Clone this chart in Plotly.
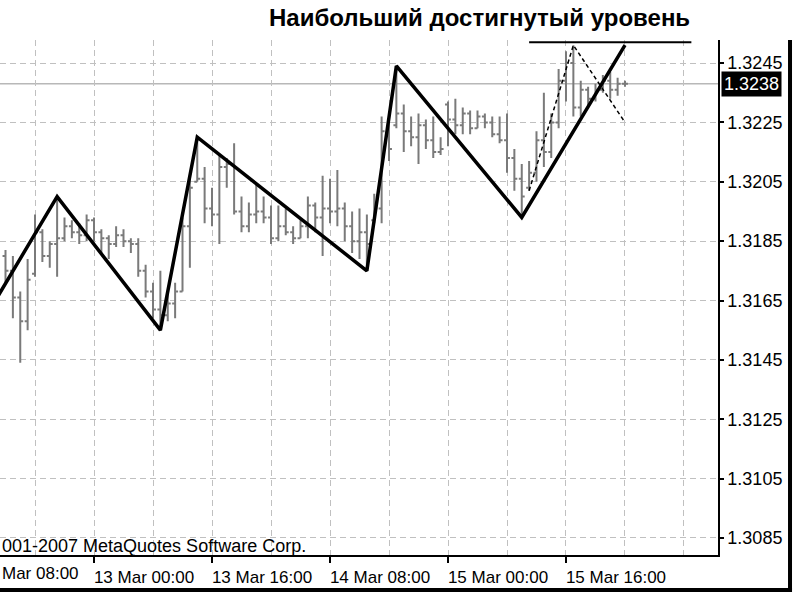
import pandas as pd
import plotly.graph_objects as go

# Hourly bars, 12 Mar 2007 12:00 .. 16 Mar 2007 00:00
bar_times = pd.date_range("2007-03-12 12:00", periods=85, freq="h")

highs = [1.3182, 1.3180, 1.3168, 1.3179, 1.3194, 1.3189, 1.3185, 1.3200, 1.3193, 1.3192,
         1.3191, 1.3194, 1.3193, 1.3189, 1.3187, 1.3190, 1.3189, 1.3186, 1.3186, 1.3177,
         1.3171, 1.3175, 1.3168, 1.3171, 1.3193, 1.3206, 1.3220, 1.3210, 1.3203, 1.3214,
         1.3213, 1.3218, 1.3200, 1.3198, 1.3204, 1.3200, 1.3197, 1.3197, 1.3196, 1.3190,
         1.3192, 1.3200, 1.3198, 1.3207, 1.3206, 1.3209, 1.3198, 1.3195, 1.3196, 1.3194,
         1.3201, 1.3227, 1.3225, 1.3244, 1.3231, 1.3227, 1.3228, 1.3226, 1.3227, 1.3220,
         1.3232, 1.3233, 1.3230, 1.3229, 1.3229, 1.3228, 1.3227, 1.3227, 1.3228, 1.3216,
         1.3211, 1.3212, 1.3222, 1.3235, 1.3228, 1.3243, 1.3249, 1.3251, 1.3239, 1.3237,
         1.3238, 1.3241, 1.3242, 1.3240, 1.3239]
lows = [1.3171, 1.3159, 1.3144, 1.3155, 1.3173, 1.3178, 1.3176, 1.3173, 1.3185, 1.3186,
        1.3184, 1.3185, 1.3185, 1.3181, 1.3179, 1.3183, 1.3183, 1.3181, 1.3173, 1.3166,
        1.3159, 1.3155, 1.3158, 1.3159, 1.3168, 1.3176, 1.3205, 1.3191, 1.3190, 1.3184,
        1.3203, 1.3194, 1.3188, 1.3188, 1.3191, 1.3191, 1.3184, 1.3185, 1.3187, 1.3184,
        1.3186, 1.3186, 1.3188, 1.3180, 1.3191, 1.3190, 1.3185, 1.3181, 1.3179, 1.3175,
        1.3191, 1.3191, 1.3212, 1.3223, 1.3215, 1.3217, 1.3211, 1.3216, 1.3213, 1.3214,
        1.3217, 1.3221, 1.3221, 1.3221, 1.3223, 1.3223, 1.3220, 1.3218, 1.3208, 1.3202,
        1.3193, 1.3202, 1.3205, 1.3210, 1.3213, 1.3223, 1.3232, 1.3227, 1.3227, 1.3230,
        1.3232, 1.3235, 1.3233, 1.3234, 1.3237]
opens = [1.3180, 1.3175, 1.3166, 1.3158, 1.3174, 1.3188, 1.3180, 1.3184, 1.3186, 1.3190,
         1.3188, 1.3187, 1.3192, 1.3188, 1.3186, 1.3184, 1.3187, 1.3185, 1.3184, 1.3175,
         1.3168, 1.3162, 1.3160, 1.3164, 1.3168, 1.3190, 1.3205, 1.3206, 1.3196, 1.3194,
         1.3210, 1.3211, 1.3195, 1.3190, 1.3194, 1.3195, 1.3193, 1.3186, 1.3190, 1.3188,
         1.3186, 1.3190, 1.3197, 1.3193, 1.3196, 1.3195, 1.3196, 1.3190, 1.3185, 1.3188,
         1.3192, 1.3196, 1.3222, 1.3224, 1.3228, 1.3222, 1.3220, 1.3224, 1.3219, 1.3215,
         1.3231, 1.3226, 1.3224, 1.3228, 1.3223, 1.3227, 1.3225, 1.3221, 1.3219, 1.3213,
         1.3206, 1.3203, 1.3208, 1.3219, 1.3215, 1.3225, 1.3239, 1.3245, 1.3230, 1.3236,
         1.3233, 1.3236, 1.3239, 1.3236, 1.3238]
closes = [1.3175, 1.3166, 1.3158, 1.3172, 1.3188, 1.3180, 1.3184, 1.3186, 1.3190, 1.3188,
          1.3187, 1.3192, 1.3188, 1.3186, 1.3184, 1.3187, 1.3185, 1.3184, 1.3175, 1.3168,
          1.3162, 1.3160, 1.3164, 1.3168, 1.3190, 1.3203, 1.3206, 1.3196, 1.3194, 1.3210,
          1.3211, 1.3195, 1.3190, 1.3194, 1.3195, 1.3193, 1.3186, 1.3190, 1.3188, 1.3186,
          1.3190, 1.3197, 1.3193, 1.3196, 1.3195, 1.3196, 1.3190, 1.3185, 1.3188, 1.3184,
          1.3196, 1.3222, 1.3216, 1.3228, 1.3222, 1.3220, 1.3224, 1.3219, 1.3215, 1.3216,
          1.3226, 1.3224, 1.3228, 1.3223, 1.3227, 1.3225, 1.3221, 1.3219, 1.3213, 1.3206,
          1.3200, 1.3208, 1.3219, 1.3215, 1.3225, 1.3239, 1.3245, 1.3230, 1.3236, 1.3233,
          1.3236, 1.3239, 1.3236, 1.3238, 1.3238]

# ZigZag pivots (solid)
zz_times = ["2007-03-12 08:00", "2007-03-12 19:00", "2007-03-13 09:00", "2007-03-13 14:00",
            "2007-03-14 13:00", "2007-03-14 17:00", "2007-03-15 10:00", "2007-03-16 00:00"]
zz_prices = [1.3154, 1.3200, 1.3155, 1.3220, 1.3175, 1.3244, 1.3193, 1.3251]

# Second zigzag (dashed)
zz2_times = ["2007-03-15 11:00", "2007-03-15 17:00", "2007-03-16 00:00"]
zz2_prices = [1.3202, 1.3251, 1.3225]

# Highest level reached
high_level_times = ["2007-03-15 11:00", "2007-03-16 09:00"]
high_level = 1.3252

current_price = 1.3238
y_ticks = [1.3085, 1.3105, 1.3125, 1.3145, 1.3165, 1.3185, 1.3205, 1.3225, 1.3245]
x_ticks = ["2007-03-13 00:00", "2007-03-13 16:00", "2007-03-14 08:00",
           "2007-03-15 00:00", "2007-03-15 16:00"]

title_text = "Наибольший достигнутый уровень"
copyright_text = "001-2007 MetaQuotes Software Corp."
cut_label = "Mar 08:00"

GRID = "#c0c0c0"
BAR = "#7a7a7a"

fig = go.Figure()

fig.add_trace(go.Ohlc(
    x=bar_times, open=opens, high=highs, low=lows, close=closes,
    increasing=dict(line=dict(color=BAR, width=2)),
    decreasing=dict(line=dict(color=BAR, width=2)),
    tickwidth=0.4, hoverinfo="skip", showlegend=False,
))

fig.add_trace(go.Scatter(
    x=zz2_times, y=zz2_prices, mode="lines",
    line=dict(color="black", width=1.5, dash="4px,3px"),
    hoverinfo="skip", showlegend=False,
))

fig.add_trace(go.Scatter(
    x=zz_times, y=zz_prices, mode="lines",
    line=dict(color="black", width=3.5),
    hoverinfo="skip", showlegend=False,
))

fig.add_trace(go.Scatter(
    x=high_level_times, y=[high_level, high_level], mode="lines",
    line=dict(color="black", width=2),
    hoverinfo="skip", showlegend=False, cliponaxis=False,
))

H = 3600 * 1000
fig.update_xaxes(
    type="date", automargin=False,
    range=["2007-03-12 11:15:15", "2007-03-16 12:36:40"],
    tickmode="array", tickvals=x_ticks,
    tickformat="%d %b %H:%M",
    ticks="outside", ticklen=6, tickcolor="black", tickwidth=1.5,
    ticklabelshift=50,
    tickfont=dict(family="Liberation Sans", size=17, color="black"),
    showgrid=False,
    minor=dict(tick0="2007-03-12 08:00", dtick=8 * H, showgrid=True,
               gridcolor=GRID, griddash="6px,4px", gridwidth=1, ticks=""),
    showline=True, linecolor="black", linewidth=1.5,
    zeroline=False, rangeslider=dict(visible=False), fixedrange=True,
)

fig.update_yaxes(
    side="right", automargin=False,
    range=[1.307927, 1.325275],
    tickvals=y_ticks, tickformat=".4f",
    ticks="outside", ticklen=4, tickcolor="black", tickwidth=1.5,
    tickfont=dict(family="Liberation Sans", size=18, color="black"),
    showgrid=True, gridcolor=GRID, griddash="6px,4px", gridwidth=1,
    showline=True, linecolor="black", linewidth=1.5,
    zeroline=False, fixedrange=True,
)

fig.add_shape(type="line", xref="paper", yref="y", x0=0, x1=1,
              y0=current_price, y1=current_price,
              line=dict(color="#b8b8b8", width=1.5), layer="below")

# window frame (right & bottom)
fig.add_shape(type="line", xref="paper", yref="paper", x0=1.1003, x1=1.1003,
              y0=1.0, y1=-0.068, line=dict(color="black", width=4))
fig.add_shape(type="line", xref="paper", yref="paper", x0=0, x1=1.1031,
              y0=-0.068, y1=-0.068, line=dict(color="black", width=4))

fig.add_annotation(xref="paper", yref="y", x=1, y=current_price,
                   xanchor="left", yanchor="middle", xshift=3,
                   text=f"{current_price:.4f}", showarrow=False,
                   bgcolor="black", borderpad=2,
                   font=dict(family="Liberation Sans", size=18, color="white"))

fig.add_annotation(xref="paper", yref="paper", x=0.6685, y=1.0437,
                   xanchor="center", yanchor="middle",
                   text=f"<b>{title_text}</b>", showarrow=False,
                   font=dict(family="Liberation Sans", size=24, color="black"))

fig.add_annotation(xref="paper", yref="paper", x=0, y=0,
                   xanchor="left", yanchor="middle", yshift=9,
                   text=copyright_text, showarrow=False,
                   font=dict(family="Liberation Sans", size=18, color="black"))

fig.add_annotation(xref="paper", yref="paper", x=0, y=0,
                   xanchor="left", yanchor="middle", yshift=-18,
                   text=cut_label, showarrow=False,
                   font=dict(family="Liberation Sans", size=17, color="black"))

fig.update_layout(
    width=800, height=600,
    margin=dict(l=0, r=82, t=40, b=45),
    paper_bgcolor="white", plot_bgcolor="white",
    showlegend=False,
)

fig.write_html("out.html", config={"displayModeBar": False},
               post_script="document.body.style.margin='0';document.body.style.overflow='hidden';")
